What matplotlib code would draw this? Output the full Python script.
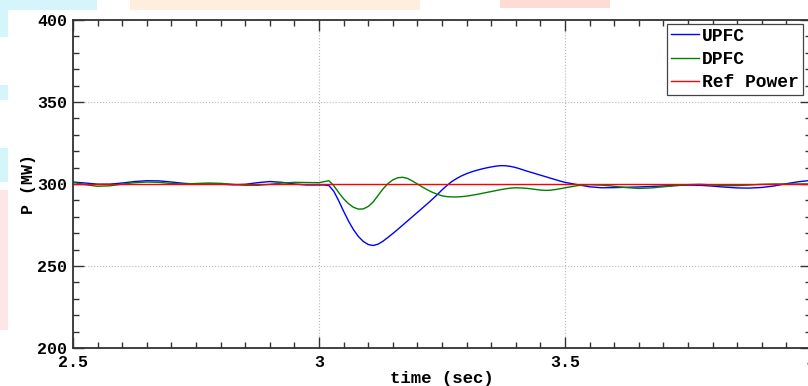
import numpy as np
import matplotlib
matplotlib.use("Agg")
import matplotlib.pyplot as plt
from matplotlib.patches import Rectangle

# ------------------------------------------------------------------
# Data
# ------------------------------------------------------------------
t_pre = [2.500, 2.525, 2.550, 2.575, 2.600, 2.625, 2.650, 2.675, 2.700, 2.725,
         2.750, 2.775, 2.800, 2.825, 2.850, 2.875, 2.900, 2.925, 2.950, 2.975]
t_fault = [3.00, 3.01, 3.02, 3.03, 3.04, 3.05, 3.06, 3.07, 3.08, 3.09,
           3.10, 3.11, 3.12, 3.13, 3.14, 3.15, 3.16, 3.17, 3.18, 3.19,
           3.20, 3.21, 3.22, 3.23, 3.24, 3.25, 3.26, 3.27, 3.28, 3.29,
           3.30, 3.31, 3.32, 3.33, 3.34, 3.35, 3.36, 3.37, 3.38, 3.39,
           3.40, 3.41, 3.42, 3.43, 3.44, 3.45, 3.46, 3.47, 3.48, 3.49, 3.50]
t_post = [3.525, 3.550, 3.575, 3.600, 3.625, 3.650, 3.675, 3.700, 3.725, 3.750,
          3.775, 3.800, 3.825, 3.850, 3.875, 3.900, 3.925, 3.950, 3.975, 4.000]
time = np.array(t_pre + t_fault + t_post)

upfc_pre = [301.2, 300.6, 299.9, 299.9, 300.6, 301.5, 302.0, 301.9, 301.2, 300.4,
            300.0, 300.0, 299.9, 299.5, 299.8, 300.8, 301.5, 301.0, 300.0, 299.4]
upfc_fault = [299.4, 299.4, 299.1, 295.6, 289.8, 283.4, 277.4, 272.2, 268.0, 265.0,
              263.1, 262.5, 263.3, 265.1, 267.4, 269.8, 272.3, 274.9, 277.5, 280.1,
              282.7, 285.3, 287.9, 290.6, 293.4, 296.4, 299.1, 301.5, 303.4, 305.0,
              306.3, 307.4, 308.3, 309.1, 309.8, 310.4, 310.9, 311.2, 311.1, 310.7,
              310.0, 309.1, 308.1, 307.2, 306.3, 305.4, 304.5, 303.6, 302.7, 301.8, 301.0]
upfc_post = [299.6, 298.3, 297.7, 297.8, 298.0, 298.2, 298.5, 298.8, 299.1, 299.3,
             299.2, 298.7, 298.1, 297.6, 297.5, 297.9, 298.8, 300.2, 301.4, 302.2]
upfc = np.array(upfc_pre + upfc_fault + upfc_post)

dpfc_pre = [301.0, 299.6, 298.6, 298.9, 299.9, 300.8, 301.2, 301.0, 300.3, 300.0,
            300.3, 300.6, 300.4, 299.8, 299.2, 299.2, 299.8, 300.6, 301.0, 300.9]
dpfc_fault = [300.8, 301.4, 302.0, 299.0, 294.8, 291.0, 288.0, 285.8, 284.7, 284.8,
              286.3, 289.0, 293.0, 297.0, 300.2, 302.5, 303.8, 304.1, 303.4, 301.8,
              300.0, 298.2, 296.5, 295.0, 293.8, 292.8, 292.3, 292.1, 292.1, 292.3,
              292.6, 293.1, 293.6, 294.2, 294.8, 295.4, 296.0, 296.6, 297.1, 297.5,
              297.7, 297.6, 297.4, 297.1, 296.7, 296.3, 296.1, 296.2, 296.6, 297.1, 297.7]
dpfc_post = [299.0, 299.6, 299.3, 298.6, 297.8, 297.3, 297.6, 298.3, 299.0, 299.6,
             299.8, 299.4, 299.0, 299.0, 299.4, 299.8, 300.0, 300.0, 300.0, 300.0]
dpfc = np.array(dpfc_pre + dpfc_fault + dpfc_post)

ref_power = 300.0

xticks = [2.5, 3, 3.5, 4]
xticklabels = ["2.5", "3", "3.5", "4"]
yticks = [200, 250, 300, 350, 400]

# ------------------------------------------------------------------
# Figure
# ------------------------------------------------------------------
W, H = 808, 386
fig = plt.figure(figsize=(W / 100, H / 100), dpi=100)
fig.patch.set_facecolor("white")

# faint watermark blotches around the border of the scanned figure
wm = [(0, 0, 97, 10, "#d4f6fb"), (0, 0, 8, 37, "#d4f6fb"), (0, 85, 8, 15, "#d4f6fb"),
      (0, 148, 8, 34, "#d4f6fb"), (0, 190, 8, 140, "#fde6e6"),
      (130, 0, 290, 10, "#fdeedd"), (500, 0, 110, 8, "#fddcd6")]
for x0, y0, w, h, c in wm:
    fig.add_artist(Rectangle((x0 / W, 1 - (y0 + h) / H), w / W, h / H,
                             transform=fig.transFigure, facecolor=c,
                             edgecolor="none", zorder=0))

# axes placed in pixels: left 73, top 20, bottom 348; right runs past the crop
left, top, bottom = 73, 20, 348
x_per_unit = (319 - 73) / 0.5
right = left + 1.5 * x_per_unit
ax = fig.add_axes([left / W, 1 - bottom / H, (right - left) / W, (bottom - top) / H])

ax.plot(time, upfc, color="#0000ff", lw=1.0, label="UPFC")
ax.plot(time, dpfc, color="#008000", lw=1.0, label="DPFC")
ax.axhline(ref_power, color="#ff0000", lw=1.0, label="Ref Power")

ax.set_xlim(2.5, 4.0)
ax.set_ylim(200, 400)
ax.set_xticks(xticks)
ax.set_xticklabels(xticklabels)
ax.set_yticks(yticks)
ax.set_xticks(np.arange(2.5, 4.0001, 0.05), minor=True)
ax.set_yticks(np.arange(200, 400.001, 10), minor=True)

mono = "Liberation Mono"
for lab in ax.get_xticklabels() + ax.get_yticklabels():
    lab.set_fontfamily(mono)
    lab.set_fontweight("bold")
    lab.set_fontsize(12)

ax.tick_params(which="both", direction="in", top=True, right=True,
               color="#333333", width=1.0)
ax.tick_params(which="major", length=8)
ax.tick_params(which="minor", length=4)
ax.tick_params(axis="x", pad=5)
ax.tick_params(axis="y", pad=4)

for s in ax.spines.values():
    s.set_color("#333333")
    s.set_linewidth(1.3)

ax.grid(True, which="major", linestyle=":", color="#b8b8b8", lw=0.8)

ax.set_xlabel("time (sec)", fontfamily=mono, fontweight="bold", fontsize=12.5, labelpad=1)
ax.set_ylabel("P (MW)", fontfamily=mono, fontweight="bold", fontsize=12, labelpad=1)

leg = ax.legend(loc="upper left", bbox_to_anchor=(667 / W, 1 - 24 / H),
                bbox_transform=fig.transFigure, borderaxespad=0,
                prop={"family": mono, "weight": "bold", "size": 13},
                handlelength=1.55, handletextpad=0.2, borderpad=0.2,
                labelspacing=0.35, fancybox=False, framealpha=1)
leg.get_frame().set_edgecolor("#444444")
leg.get_frame().set_linewidth(0.9)

fig.savefig("out.png", dpi=100)
